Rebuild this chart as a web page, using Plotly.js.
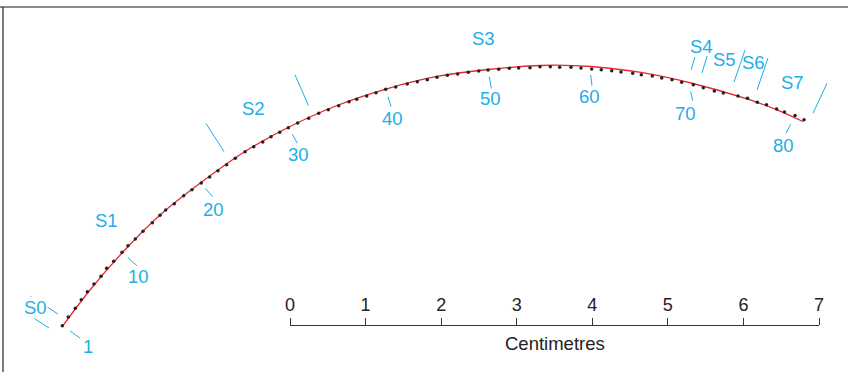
<!DOCTYPE html>
<html>
<head>
<meta charset="utf-8">
<script src="https://cdn.plot.ly/plotly-3.0.1.min.js"></script>
<style>html,body{margin:0;padding:0;background:#fff;}#chart{width:848px;height:372px;}</style>
</head>
<body>
<div id="chart"></div>
<script>
// Somite positions (cm, x from the scale-bar zero, y from the curve start level)
const dotX = [-3.013,-2.934,-2.841,-2.762,-2.682,-2.594,-2.501,-2.426,-2.333,-2.223,
  -2.144,-2.047,-1.945,-1.822,-1.720,-1.645,-1.531,-1.407,-1.297,-1.174,
  -1.063,-0.953,-0.838,-0.724,-0.595,-0.480,-0.361,-0.251,-0.136,-0.022,
  0.102,0.247,0.380,0.507,0.644,0.781,0.883,1.015,1.138,1.266,
  1.399,1.552,1.685,1.817,1.945,2.082,2.219,2.359,2.497,2.620,
  2.762,2.902,3.026,3.176,3.308,3.445,3.569,3.718,3.851,3.992,
  4.119,4.257,4.380,4.535,4.649,4.794,4.919,5.055,5.183,5.337,
  5.469,5.615,5.734,5.928,6.054,6.184,6.305,6.440,6.544,6.683,6.802];
const dotY = [0.004,0.119,0.234,0.348,0.454,0.556,0.658,0.764,0.856,0.975,
  1.063,1.151,1.253,1.367,1.465,1.535,1.618,1.724,1.804,1.892,
  1.972,2.055,2.135,2.219,2.307,2.373,2.435,2.505,2.563,2.624,
  2.686,2.749,2.815,2.862,2.915,2.968,3.000,3.044,3.087,3.132,
  3.163,3.202,3.233,3.259,3.291,3.317,3.335,3.357,3.374,3.388,
  3.397,3.410,3.414,3.418,3.431,3.431,3.423,3.423,3.414,3.401,
  3.392,3.378,3.361,3.344,3.326,3.308,3.282,3.259,3.226,3.193,
  3.153,3.110,3.083,3.044,3.013,2.960,2.928,2.872,2.832,2.786,2.730];

// Fitted curve
const curveX = [-3.017,-2.647,-2.223,-1.720,-1.178,-0.595,-0.026,0.622,1.270,1.945,2.620,3.308,3.639,3.983,4.645,5.333,6.047,6.444,6.788];
const curveY = [-0.013,0.476,0.966,1.469,1.899,2.309,2.627,2.918,3.136,3.302,3.394,3.447,3.450,3.434,3.355,3.209,3.004,2.861,2.706];

// Segment boundary strokes (start and end points)
const bX0 = [-3.414,-3.441,-1.112,0.066,5.307,5.452,5.875,6.180,6.921];
const bY0 = [0.119,0.397,2.680,3.322,3.388,3.348,3.225,3.123,2.815];
const bX1 = [-3.189,-3.070,-0.873,0.245,5.359,5.519,6.021,6.325,7.106];
const bY1 = [-0.026,0.159,2.309,2.918,3.560,3.573,3.652,3.546,3.212];

// Count pointers
const pX0 = [-2.911,-2.144,-1.121,0.030,1.297,2.637,3.979,5.302,6.626];
const pY0 = [-0.066,0.904,1.822,2.537,3.034,3.299,3.322,3.101,2.669];
const pX1 = [-2.779,-2.025,-1.023,0.097,1.337,2.664,3.996,5.329,6.563];
const pY1 = [-0.159,0.798,1.711,2.418,2.902,3.145,3.180,2.982,2.550];

// Count labels
const countText = ['1','10','20','30','40','50','60','70','80'];
const countX = [-2.673,-2.007,-1.015,0.119,1.350,2.656,3.966,5.240,6.528];
const countY = [-0.265,0.652,1.544,2.263,2.749,3.013,3.034,2.815,2.386];

// Segment labels
const segText = ['S0','S1','S2','S3','S4','S5','S6','S7'];
const segX = [-3.374,-2.426,-0.486,2.567,5.448,5.747,6.131,6.652];
const segY = [0.242,1.393,2.881,3.811,3.696,3.520,3.484,3.225];

// Scale bar
const scaleTicks = [0,1,2,3,4,5,6,7];
const scaleTitle = 'Centimetres';

const CYAN = '#1eaee6';
const FONT = 'Liberation Sans, Arial, Helvetica, sans-serif';

function segs(x0,y0,x1,y1){
  const xs=[], ys=[];
  for(let i=0;i<x0.length;i++){ xs.push(x0[i],x1[i],null); ys.push(y0[i],y1[i],null); }
  return {xs, ys};
}
const b = segs(bX0,bY0,bX1,bY1);
const p = segs(pX0,pY0,pX1,pY1);

const traces = [
  {x:b.xs, y:b.ys, mode:'lines', line:{color:CYAN, width:1}, hoverinfo:'skip', xaxis:'x', yaxis:'y'},
  {x:p.xs, y:p.ys, mode:'lines', line:{color:CYAN, width:1}, hoverinfo:'skip', xaxis:'x', yaxis:'y'},
  {x:curveX, y:curveY, mode:'lines', line:{color:'#e8262e', width:1.3, shape:'spline', smoothing:1}, hoverinfo:'skip'},
  {x:dotX, y:dotY, mode:'markers', marker:{color:'#222', size:3.5}, hoverinfo:'skip'},
  {x:scaleTicks, y:scaleTicks.map(()=>0), mode:'markers', marker:{opacity:0}, xaxis:'x2', yaxis:'y2', hoverinfo:'skip'}
];

const annotations = [];
countText.forEach((t,i)=>annotations.push({x:countX[i], y:countY[i], xref:'x', yref:'y', text:t, showarrow:false,
  font:{family:FONT, size:18.5, color:CYAN}, xanchor:'center', yanchor:'middle'}));
segText.forEach((t,i)=>annotations.push({x:segX[i], y:segY[i], xref:'x', yref:'y', text:t, showarrow:false,
  font:{family:FONT, size:18.5, color:CYAN}, xanchor:'center', yanchor:'middle',
  bgcolor: i===0 ? 'rgba(255,255,255,1)' : 'rgba(0,0,0,0)', borderpad:0}));
annotations.push({x:3.5, y:-0.23, xref:'x2', yref:'y', text:scaleTitle, showarrow:false,
  font:{family:FONT, size:18.5, color:'#222'}, xanchor:'center', yanchor:'middle'});

const layout = {
  width:848, height:372,
  margin:{l:0,r:0,t:0,b:0},
  paper_bgcolor:'#fff', plot_bgcolor:'#fff',
  showlegend:false,
  xaxis:{range:[-3.8375,7.3839], visible:false, domain:[0,1], anchor:'y'},
  yaxis:{range:[-0.6087,4.3139], visible:false, domain:[0,1], anchor:'x'},
  xaxis2:{domain:[290/848, 819/848], range:[0,7], anchor:'y2', side:'top',
    showline:true, linecolor:'#333', linewidth:1, ticks:'outside', ticklen:7, tickwidth:1, tickcolor:'#333',
    tickvals:scaleTicks, ticktext:scaleTicks.map(String), showgrid:false, zeroline:false,
    tickfont:{family:FONT, size:18, color:'#222'}, fixedrange:true},
  yaxis2:{domain:[0.02, (372-326)/372], anchor:'x2', visible:false, range:[-1,0]},
  annotations,
  shapes:[
    {type:'line', xref:'paper', yref:'paper', x0:0, x1:1, y0:(372-7)/372, y1:(372-7)/372, line:{color:'#8a8a8a', width:2}},
    {type:'line', xref:'paper', yref:'paper', x0:3/848, x1:3/848, y0:0, y1:(372-7)/372, line:{color:'#333', width:1.3}}
  ]
};

Plotly.newPlot('chart', traces, layout, {displayModeBar:false, staticPlot:true});
</script>
</body>
</html>
